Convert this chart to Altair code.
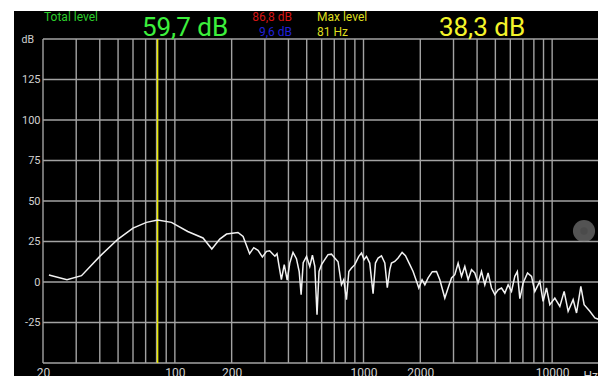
import altair as alt
import pandas as pd

# ---------------- data ----------------
freq_hz = [21.5, 26.8, 32.0, 40.0, 50.0, 60.0, 70.7, 81.0, 95.9,
           117, 141, 157, 173, 188, 216, 230, 249, 262, 276,
           291, 306, 318, 339, 348, 357, 367, 380, 394, 407,
           423, 441, 456, 467, 479, 499, 519, 536, 552, 567,
           581, 599, 623, 649, 676, 704, 733, 764, 786, 812,
           836, 864, 899, 944, 976, 1007, 1037, 1079, 1124, 1157,
           1195, 1245, 1297, 1337, 1378, 1407, 1465, 1525, 1602, 1669,
           1760, 1832, 1910, 1964, 2044, 2114, 2200, 2316, 2438, 2538,
           2698, 2808, 2928, 3048, 3174, 3308, 3444, 3586, 3738, 3890,
           4050, 4222, 4396, 4576, 4770, 4966, 5170, 5390, 5612, 5842,
           6090, 6340, 6536, 6740, 7018, 7404, 7774, 8094, 8602, 8956,
           9334, 9718, 10332, 10984, 11576, 12154, 12920, 13468, 14192, 14776,
           15840, 16838, 17900, 19020]
level_db = [4.3, 1.4, 3.9, 15.8, 26.5, 33.3, 36.8, 38.3, 36.8,
            31.2, 27.2, 20.4, 26.5, 29.6, 30.6, 28.1, 17.5, 21.2, 19.5,
            15.4, 18.9, 19.3, 15.9, 17.5, 9.6, 1.4, 10.7, 1.1, 11.9,
            18.3, 14.4, 6.5, -7.8, 11.9, 15.8, 9.6, 16.5, 9.6, -20.2,
            6.5, 10.7, 13.8, 16.9, 17.2, 14.8, 12.5, -1.7, 1.4, -10.9,
            6.4, 8.6, 10.7, 15.8, 17.9, 13.8, 15.8, 11.7, -7.2, 11.7,
            14.8, 16.2, 11.7, -3.5, 7.6, 11.7, 12.7, 14.8, 18.3, 16.2,
            10.7, 6.5, 0.4, -3.7, 1.4, -1.7, 2.5, 6.4, 6.5, 1.4,
            -9.9, -3.7, 2.5, 4.5, 11.7, 3.5, 9.6, 1.4, 7.6, 5.6,
            -0.6, 6.5, -1.7, 5.6, -3.7, -7.8, -4.8, -3.7, -6.8, -1.7,
            -5.8, 3.5, 6.4, -10.3, -0.6, 5.6, 3.5, -5.8, 0.4, -12.0,
            -3.7, -14.0, -9.9, -15.1, -5.8, -18.1, -10.9, -19.1, -2.7, -14.0,
            -18.1, -22.2, -23.3, -24.3]

grid_freqs = [20, 30, 40, 50, 60, 70, 80, 90,
              100, 200, 300, 400, 500, 600, 700, 800, 900,
              1000, 2000, 3000, 4000, 5000, 6000, 7000, 8000, 9000, 10000]
labelled_freqs = [20, 100, 200, 1000, 2000, 10000]
level_ticks = [-50, -25, 0, 25, 50, 75, 100, 125, 150]
max_level_freq = [81]

total_level_texts = ["Total level", "59,7 dB"]
peak_texts = ["86,8 dB", "9,6 dB"]
max_level_texts = ["Max level", "81 Hz", "38,3 dB"]
x_unit = ["Hz"]
y_unit = ["dB"]

# ---------------- tables ----------------
spectrum = pd.DataFrame({"freq": freq_hz, "level": level_db})
grid_v = pd.DataFrame({"freq": grid_freqs})
grid_h = pd.DataFrame({"level": level_ticks})
max_df = pd.DataFrame({"freq": max_level_freq})
one = pd.DataFrame({"k": [0]})

FONT = "Roboto"
GRID = "#a3a3a3"
LABEL = "#d0d0d0"

x_scale = alt.Scale(type="log", domain=[20, 17500], nice=False)
y_scale = alt.Scale(domain=[-50, 150], nice=False, zero=False)

x_axis = alt.Axis(
    values=grid_freqs,
    labelExpr=f"indexof({labelled_freqs}, datum.value) >= 0 ? '' + datum.value : ''",
    grid=False, domain=False, ticks=False, title=None,
    labelPadding=4, labelFont=FONT, labelFontSize=12, labelColor=LABEL,
    labelFlush=False, labelOverlap=False, zindex=1,
)
y_axis = alt.Axis(
    values=level_ticks,
    labelExpr="(datum.value == 150 || datum.value == -50) ? '' : '' + datum.value",
    grid=False, domain=False, ticks=False, title=None,
    labelPadding=3, labelFont=FONT, labelFontSize=11, labelColor=LABEL,
    labelOverlap=False, zindex=1,
)

X = lambda: alt.X("freq:Q", scale=x_scale, axis=x_axis)
Y = lambda: alt.Y("level:Q", scale=y_scale, axis=y_axis)

background = alt.Chart(one).mark_rect(color="black").encode(
    x=alt.value(-29), x2=alt.value(600), y=alt.value(-28), y2=alt.value(345)
)

vgrid = alt.Chart(grid_v).mark_rule(color=GRID, strokeWidth=1.4).encode(x=X())
hgrid = alt.Chart(grid_h).mark_rule(color=GRID, strokeWidth=1.4).encode(y=Y())

max_rule = alt.Chart(max_df).mark_rule(color="#e8e800", strokeWidth=1.5).encode(x=X())

curve = alt.Chart(spectrum).mark_line(color="#f2f2f2", strokeWidth=1.5, clip=True).encode(
    x=X(), y=Y()
)

button_outer = alt.Chart(one).mark_circle(size=490, color="#8a8a8a", opacity=0.6).encode(
    x=alt.value(541), y=alt.value(192)
)
button_inner = alt.Chart(one).mark_circle(size=55, color="#4a4a4a", opacity=0.8).encode(
    x=alt.value(541), y=alt.value(192)
)


def label(text, x, y, color, size, align="left", baseline="alphabetic", font=FONT):
    return alt.Chart(pd.DataFrame({"t": [text]})).mark_text(
        font=font, fontSize=size, color=color, align=align, baseline=baseline
    ).encode(x=alt.value(x), y=alt.value(y), text="t:N")


texts = [
    label(total_level_texts[0], 1, -18, "#2ccc2c", 12),
    label(total_level_texts[1], 142, -3, "#3cf03c", 26, align="center"),
    label(peak_texts[0], 249, -18, "#d41414", 12, align="right"),
    label(peak_texts[1], 249, -3, "#2020d8", 12, align="right"),
    label(max_level_texts[0], 274, -18, "#dede1e", 12),
    label(max_level_texts[1], 274, -3, "#dede1e", 12),
    label(max_level_texts[2], 439, -3, "#f4f42a", 26, align="center"),
    label(x_unit[0], 555, 341, LABEL, 12, align="right"),
    label(y_unit[0], -9, 1, LABEL, 10.5, align="right", baseline="middle"),
]

chart = alt.layer(
    background, vgrid, hgrid, max_rule, curve, button_outer, button_inner, *texts
).properties(
    width=555,
    height=324,
    autosize=alt.AutoSizeParams(type="none"),
    padding={"left": 35, "top": 31, "right": 0, "bottom": 13},
    background="white",
).configure_view(stroke=None)

chart.save("out.html", embed_options={"renderer": "svg", "actions": False})
